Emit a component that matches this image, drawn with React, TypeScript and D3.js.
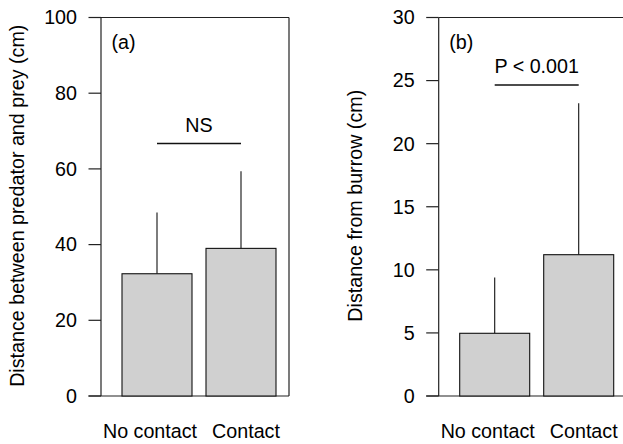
import * as d3 from "d3";

const groups = ["No contact", "Contact"];
const distPredPrey = [32.3, 39.0];
const distPredPreyErr = [48.5, 59.4];
const distBurrow = [4.97, 11.2];
const distBurrowErr = [9.4, 23.2];
const ticksA = [0, 20, 40, 60, 80, 100];
const ticksB = [0, 5, 10, 15, 20, 25, 30];

const font = "'Liberation Sans', Arial, Helvetica, sans-serif";
const fs = 19.7;
const top = 17.5;
const bottom = 396;
const plotW = 188;

function Panel({
  left,
  values,
  errs,
  ticks,
  maxY,
  tag,
  yLabel,
  labelX,
  sigText,
  sigValue,
  sigTextY,
}: any) {
  const y = d3.scaleLinear([0, maxY], [bottom, top]);
  const x = d3
    .scaleBand<string>()
    .domain(groups)
    .range([left + 14, left + 182])
    .paddingInner(1 / 6)
    .paddingOuter(1 / 12);
  const bw = x.bandwidth();
  const cx = (g: string) => (x(g) as number) + bw / 2;
  const labelShift = [-7, 5];
  const axisColor = "#222";
  return (
    <g fontFamily={font} fill="#000">
      {/* frame */}
      <line x1={left} x2={left} y1={top} y2={bottom} stroke={axisColor} strokeWidth={1.2} />
      <line x1={left} x2={left + plotW} y1={top} y2={top} stroke={axisColor} strokeWidth={1.2} />
      <line x1={left + plotW} x2={left + plotW} y1={top} y2={bottom} stroke={axisColor} strokeWidth={1.2} />
      <line x1={left - 12.5} x2={left + plotW} y1={bottom} y2={bottom} stroke={axisColor} strokeWidth={1.2} />
      {ticks.map((t: number) => (
        <g key={t}>
          <line x1={left - 12.5} x2={left} y1={y(t)} y2={y(t)} stroke={axisColor} strokeWidth={1.2} />
          <text x={left - 24} y={y(t)} dy="0.35em" textAnchor="end" fontSize={fs}>
            {t}
          </text>
        </g>
      ))}
      {/* error bars */}
      {groups.map((g, i) => (
        <line key={"e" + g} x1={cx(g)} x2={cx(g)} y1={y(values[i])} y2={y(errs[i])} stroke="#111" strokeWidth={1.1} />
      ))}
      {groups.map((g, i) => (
        <rect
          key={g}
          x={x(g)}
          y={y(values[i])}
          width={bw}
          height={bottom - y(values[i])}
          fill="#d0d0d0"
          stroke="#111"
          strokeWidth={1.1}
        />
      ))}
      {groups.map((g, i) => (
        <text key={"l" + g} x={cx(g) + labelShift[i]} y={438} textAnchor="middle" fontSize={fs}>
          {g}
        </text>
      ))}
      <text x={left + 10.5} y={48.5} fontSize={fs}>
        {tag}
      </text>
      <line
        x1={cx(groups[0])}
        x2={cx(groups[1])}
        y1={y(sigValue)}
        y2={y(sigValue)}
        stroke="#111"
        strokeWidth={1.5}
      />
      <text x={(cx(groups[0]) + cx(groups[1])) / 2} y={sigTextY} textAnchor="middle" fontSize={fs}>
        {sigText}
      </text>
      <text
        transform={`translate(${labelX},${(top + bottom) / 2 - 1}) rotate(-90)`}
        textAnchor="middle"
        fontSize={fs}
      >
        {yLabel}
      </text>
    </g>
  );
}

export default function App() {
  return (
    <svg
      width={623}
      height={444}
      style={{ position: "absolute", left: 0, top: 0, background: "#fff" }}
    >
      <Panel
        left={101}
        values={distPredPrey}
        errs={distPredPreyErr}
        ticks={ticksA}
        maxY={100}
        tag="(a)"
        yLabel="Distance between predator and prey (cm)"
        labelX={23.5}
        sigText="NS"
        sigValue={66.7}
        sigTextY={131.5}
      />
      <Panel
        left={438.7}
        values={distBurrow}
        errs={distBurrowErr}
        ticks={ticksB}
        maxY={30}
        tag="(b)"
        yLabel="Distance from burrow (cm)"
        labelX={361.5}
        sigText="P < 0.001"
        sigValue={24.65}
        sigTextY={72.5}
      />
    </svg>
  );
}
